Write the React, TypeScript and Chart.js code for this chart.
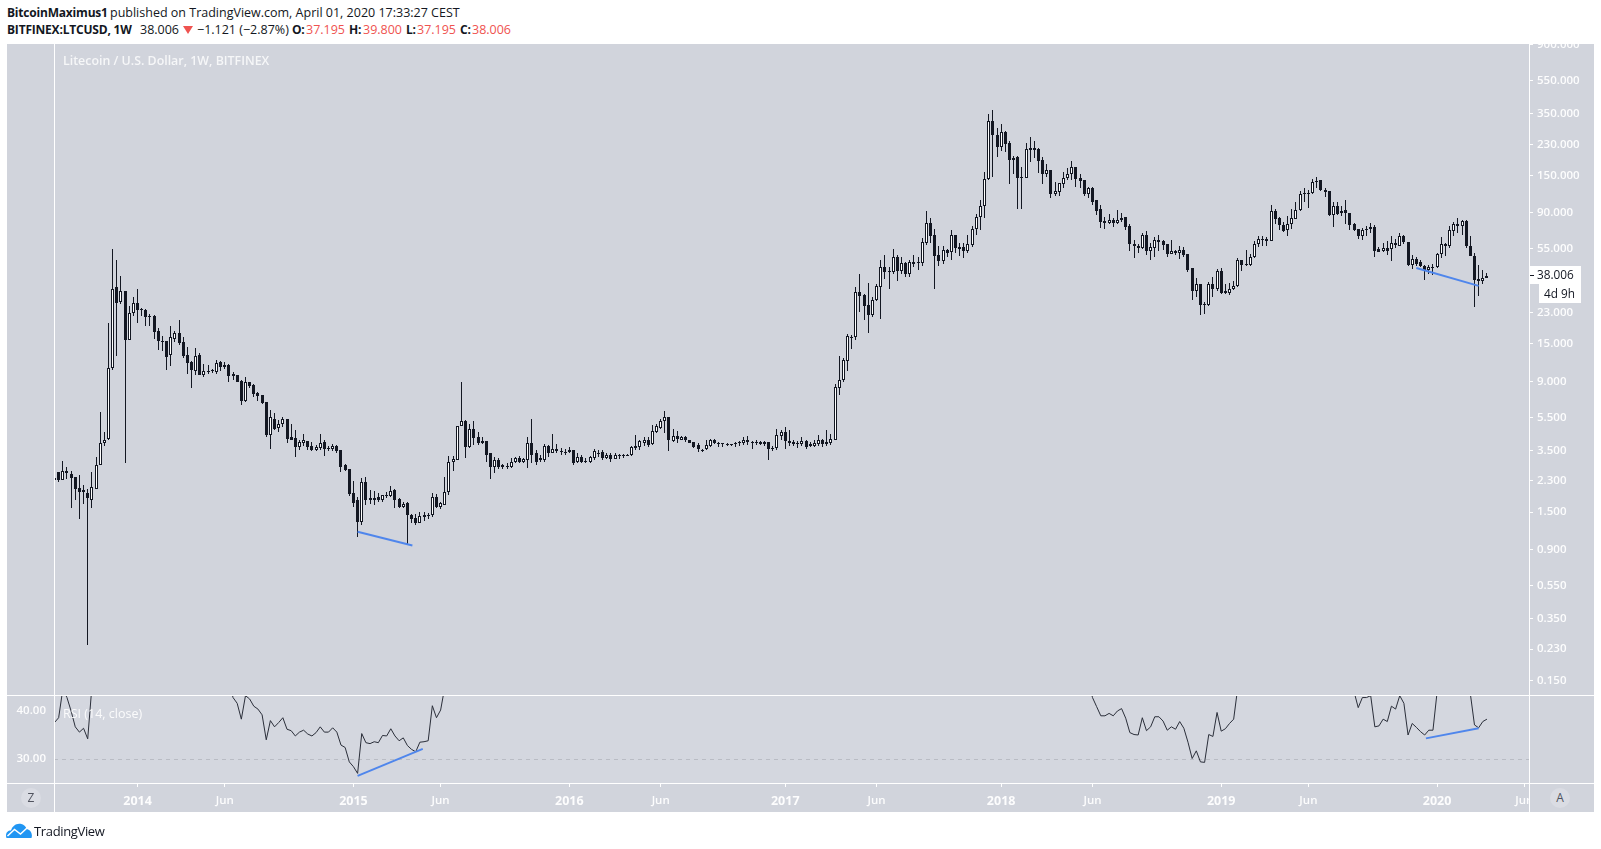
import { useEffect, useRef } from "react";
import { Chart, registerables } from "chart.js";

Chart.register(...registerables);

const FONT = '"Open Sans", sans-serif';
const DARK = "#131722";
const RED = "#ef5350";
const BLUE = "#4f86ec";
const AXIS_TEXT = "rgba(255,255,255,0.95)";

// weekly bars, first one is the week of 2013-08-19
const opens = [
  2.4, 2.59, 2.33, 2.62, 2.52, 2.42, 2.1, 2.02, 1.96, 1.76,
  2.05, 2.85, 3.85, 4.1, 10.8, 32.6, 26.7, 30.9, 15.9, 22.8,
  26.1, 24.2, 23.9, 22, 22, 17.8, 15.6, 15.6, 12.9, 16.1,
  17.3, 15.3, 12.9, 11.7, 10.4, 12.9, 9.8, 10.4, 10.5, 10.2,
  11.7, 11.2, 11.3, 9.9, 9.8, 9, 6.9, 8.9, 8.5, 7.7,
  7.5, 6.8, 4.3, 5.4, 4.75, 5, 5.4, 4.2, 4.15, 3.65,
  3.85, 3.95, 3.7, 3.5, 3.6, 3.9, 3.62, 3.58, 3.72, 3.5,
  2.85, 2.72, 1.95, 1.78, 1.32, 2.26, 1.82, 1.82, 1.84, 1.77,
  1.9, 1.86, 2.02, 1.79, 1.62, 1.7, 1.45, 1.38, 1.3, 1.44,
  1.42, 1.44, 1.84, 1.6, 1.66, 1.97, 2.97, 3.08, 4.9, 5.25,
  3.65, 4.65, 4.2, 3.95, 3.95, 3.35, 2.8, 3.05, 2.85, 2.82,
  2.8, 3.0, 3.15, 2.98, 3.05, 3.85, 3.35, 3.15, 3.05, 3.72,
  3.35, 3.55, 3.45, 3.43, 3.5, 3.5, 2.97, 3.17, 3.03, 2.97,
  3.15, 3.38, 3.4, 3.15, 3.3, 3.12, 3.3, 3.27, 3.3, 3.26,
  3.7, 3.65, 3.85, 4.05, 3.8, 4.5, 4.75, 5.2, 5.55, 3.97,
  4.25, 4.05, 4.2, 4.05, 3.9, 3.75, 3.52, 3.55, 3.72, 4.05,
  3.85, 3.85, 3.83, 3.82, 3.88, 3.9, 3.87, 4.05, 3.93, 3.9,
  3.92, 3.92, 3.92, 3.6, 3.6, 4.25, 4.5, 3.95, 3.92, 3.87,
  3.8, 3.95, 3.8, 3.72, 3.8, 4.05, 3.9, 3.88, 4.05, 8.2,
  9.1, 11.9, 16.6, 16.4, 30.4, 29.2, 25.4, 22.3, 27.2, 32.8,
  43, 40.5, 40, 49, 40.7, 45.5, 39.3, 46, 46, 45.5,
  60, 78, 66.7, 50.5, 46.7, 54.6, 52.5, 66.7, 56.5, 56.5,
  53.8, 57.8, 72, 85, 99, 143, 315, 260, 223, 271,
  235, 185, 194, 148, 146, 218, 220, 215, 185, 153,
  163, 117, 120, 133, 145, 153, 170, 145, 141, 117,
  126, 107, 94.5, 81, 79, 82, 78, 81.5, 85, 75.5,
  59, 57.5, 56, 66.7, 53.8, 56, 62, 61, 59, 51.5,
  53.8, 51.8, 54.6, 51.5, 42.5, 31, 34, 25.8, 25.5, 34,
  32, 40.5, 30.8, 30.3, 32, 33, 47, 45, 44, 49,
  58.5, 63, 63, 61.5, 92, 84, 76, 71, 77.5, 83,
  94, 119, 117, 118, 140, 141, 124, 122, 87.5, 99.5,
  93, 93.5, 90, 77.5, 72, 66, 71.5, 72, 74, 55,
  53.5, 56, 55, 60, 57.5, 66, 60.5, 44, 48, 46,
  43.5, 41.3, 43, 43, 51, 58.7, 57, 70.5, 77.5, 75.5,
  80.5, 57, 50, 36.5, 35.3, 37.195,
];

const highs = [
  2.42, 2.59, 3.01, 2.77, 2.63, 2.42, 2.49, 2.17, 2.05, 2.59,
  3.2, 5.87, 4.5, 20, 55, 47, 38, 30.9, 25.2, 28.6,
  31.7, 24.5, 24.1, 22.5, 22.4, 18.6, 16.7, 15.6, 19.2, 17.9,
  20.9, 16.5, 14.4, 11.9, 14.2, 13.2, 11.4, 11.3, 10.6, 12,
  11.9, 11.7, 11.4, 10.2, 9.8, 9.1, 9.6, 8.9, 8.7, 7.8,
  7.5, 6.8, 6.1, 5.8, 5.3, 5.5, 5.4, 5, 4.6, 4.05,
  4.4, 3.95, 3.9, 3.75, 4.4, 4, 3.7, 3.8, 3.75, 3.5,
  2.9, 2.72, 2.3, 1.84, 2.4, 2.42, 2.02, 2, 1.95, 1.9,
  1.98, 2.16, 2.05, 1.82, 1.72, 1.72, 1.47, 1.47, 1.5, 1.5,
  1.48, 1.96, 1.92, 1.73, 2.42, 3.25, 3.25, 4.9, 8.9, 5.3,
  5, 5.2, 4.5, 4.2, 3.95, 3.35, 3.2, 3.15, 2.9, 2.95,
  3.15, 3.17, 3.25, 3.15, 4.2, 5.4, 3.5, 3.27, 3.8, 3.77,
  4.4, 3.8, 3.6, 3.55, 3.65, 3.5, 3.35, 3.3, 3.15, 3.25,
  3.55, 3.5, 3.5, 3.35, 3.35, 3.35, 3.32, 3.32, 3.33, 3.72,
  4.3, 4.05, 4.2, 4.2, 4.95, 5, 5.35, 5.95, 5.55, 4.7,
  4.55, 4.25, 4.25, 4.05, 3.9, 3.85, 3.55, 4.05, 4.1, 4.1,
  3.9, 3.87, 3.87, 3.83, 3.92, 3.95, 4.2, 4.25, 3.97, 4,
  3.95, 3.95, 3.92, 3.7, 4.65, 4.6, 4.8, 4.6, 4.05, 3.95,
  4.2, 4.03, 3.9, 4, 4.3, 4.1, 4.6, 4.35, 8.7, 12.8,
  12.3, 17.1, 17, 32.7, 39, 29.8, 34.5, 28.5, 34, 47.5,
  50.6, 43, 55.3, 50.6, 49.3, 46, 47.5, 50.6, 49.3, 64,
  93, 83.7, 72, 57, 57, 55.3, 71.5, 66.7, 59.4, 59.4,
  66.4, 75, 89, 107, 157, 350, 370, 286, 305, 277,
  241, 196, 196, 170, 235, 254, 240, 218, 193, 177,
  163, 137, 136, 157, 167, 183, 170, 153, 141, 129,
  129, 108, 101, 85, 89, 84, 94, 90.5, 85, 77.5,
  62.5, 58.5, 68.5, 70.5, 59.4, 64.5, 67, 62, 59, 62.5,
  54.6, 57.5, 56.5, 51.5, 42.5, 37, 34, 26.5, 35, 37.5,
  42, 42.2, 34, 34.5, 35.3, 48.4, 47.6, 54.6, 51, 61.4,
  65.6, 66, 65, 100, 94.5, 85, 80, 86, 95.3, 104.5,
  121, 127, 124, 144, 146.5, 141, 127, 122, 105, 104,
  99.6, 107.5, 90, 78.5, 72.5, 73, 75, 79, 76, 56.5,
  59.7, 61, 66, 63, 68.5, 66.7, 60.5, 50.5, 49, 47,
  44, 44, 45, 52, 65, 60, 75, 80, 84, 81.5,
  82, 66, 52, 44, 41.3, 39.8,
];

const lows = [
  2.25, 2.27, 2.33, 2.36, 1.58, 1.76, 1.37, 1.68, 0.245, 1.58,
  2.05, 2.85, 3.7, 4.0, 10.5, 12.7, 25.9, 2.95, 15.9, 22,
  20, 22, 19.1, 19.1, 16.1, 13.8, 13.6, 10.5, 11.1, 15.4,
  14.8, 12.3, 10, 8.2, 9.8, 9.8, 9.5, 9.9, 10.1, 10,
  10.4, 10.7, 8.9, 9.1, 8.9, 6.5, 6.8, 8.2, 7.3, 6.9,
  6.6, 4.2, 3.55, 4.63, 4.5, 4.8, 3.85, 4, 3.2, 3.5,
  3.7, 3.5, 3.45, 3.45, 3.5, 3.25, 3.45, 3.45, 3.35, 2.6,
  2.62, 1.86, 1.6, 1.07, 1.25, 1.65, 1.67, 1.65, 1.73, 1.73,
  1.83, 1.85, 1.58, 1.58, 1.58, 0.97, 1.3, 1.25, 1.29, 1.33,
  1.36, 1.41, 1.58, 1.56, 1.66, 1.9, 2.62, 3.05, 4.85, 3.15,
  3.6, 3.75, 3.75, 3.8, 3, 2.35, 2.55, 2.7, 2.72, 2.72,
  2.76, 2.95, 2.93, 2.93, 2.73, 2.95, 2.85, 2.98, 3, 3.2,
  3.35, 3.35, 3.3, 3.3, 3.35, 2.85, 2.95, 2.95, 2.93, 2.93,
  3.08, 3.2, 3.05, 3.1, 2.98, 3.1, 3.1, 3.15, 3.24, 3.22,
  3.5, 3.5, 3.72, 3.68, 3.75, 4.45, 4.65, 4.45, 3.45, 3.9,
  3.87, 4, 3.9, 3.87, 3.6, 3.43, 3.43, 3.53, 3.68, 3.8,
  3.65, 3.65, 3.72, 3.7, 3.68, 3.7, 3.78, 3.78, 3.55, 3.75,
  3.78, 3.72, 3.05, 3.45, 3.53, 4, 3.55, 3.7, 3.72, 3.6,
  3.7, 3.55, 3.65, 3.67, 3.7, 3.65, 3.7, 3.78, 4, 7.5,
  8.9, 10.3, 13.9, 15.9, 23.3, 20.8, 17.4, 21.7, 27, 21,
  36.6, 32, 38.8, 35.6, 38.8, 37.5, 37.5, 43, 41, 43.5,
  57.8, 60, 32, 43.5, 44.5, 49.4, 47, 52.3, 50, 48.5,
  52.3, 56.5, 66.7, 71.5, 84, 141, 148, 193, 211, 208,
  134, 154, 95, 95, 146, 180, 190, 156, 134, 148,
  111, 113, 113, 126, 141, 141, 129, 127, 113, 111,
  101, 88, 73, 72.5, 77, 74, 77, 80, 71.5, 53.8,
  48.5, 52.3, 55, 50.5, 47, 49.5, 53.8, 54.6, 49.5, 51.5,
  50.5, 47.7, 49.5, 40, 27.5, 28.5, 22.3, 22.6, 25.2, 28.5,
  31, 29.5, 29.5, 29.2, 31.5, 32.6, 40.5, 43.5, 43.5, 48.4,
  56.5, 57.5, 57, 61, 77.5, 71, 69, 66, 72, 83,
  93, 104, 97, 117, 127, 121, 111.5, 86, 74, 87,
  86, 77.5, 71.5, 70, 63, 62, 66, 68.5, 49.5, 53,
  53, 50.5, 46.5, 55.5, 57, 58.7, 43.5, 42, 43.5, 43,
  36, 39, 38.7, 42.5, 48.5, 50, 55.5, 65.5, 68, 67,
  56, 50, 24.8, 28.8, 34, 37.195,
];

const closes = [
  2.32, 2.34, 2.62, 2.57, 2.4, 2.06, 1.97, 1.97, 1.82, 2.13,
  2.85, 3.88, 4.0, 10.8, 31.7, 26.1, 30.9, 15.9, 22.8, 26.1,
  24, 23.8, 21.7, 21.8, 17.7, 15.6, 15.4, 12.6, 16.4, 17.4,
  15.2, 12.7, 11.6, 10.5, 12.7, 9.8, 10.4, 10.3, 10.3, 11.6,
  10.9, 11, 9.7, 9.7, 8.9, 6.9, 8.9, 8.4, 7.6, 7.4,
  6.7, 4.3, 5.5, 4.7, 5, 5.35, 4.1, 4.05, 3.65, 3.9,
  4, 3.65, 3.5, 3.65, 3.85, 3.55, 3.58, 3.72, 3.45, 2.78,
  2.67, 1.92, 1.7, 1.32, 2.26, 1.76, 1.76, 1.77, 1.77, 1.9,
  1.86, 2.0, 1.77, 1.62, 1.68, 1.44, 1.37, 1.3, 1.42, 1.41,
  1.45, 1.84, 1.62, 1.69, 1.98, 2.97, 3.1, 4.9, 5.25, 3.65,
  4.65, 4.15, 3.85, 3.85, 3.3, 2.8, 3.05, 2.77, 2.78, 2.78,
  3.0, 3.15, 2.98, 3.1, 3.85, 3.3, 3, 3.05, 3.72, 3.35,
  3.55, 3.45, 3.4, 3.4, 3.4, 2.95, 3.2, 2.97, 2.97, 3.17,
  3.45, 3.35, 3.15, 3.3, 3.12, 3.3, 3.27, 3.25, 3.25, 3.65,
  3.62, 3.95, 4.05, 3.75, 4.55, 4.85, 5.2, 5.55, 4.0, 4.25,
  4.1, 4.2, 4.03, 3.87, 3.65, 3.55, 3.5, 3.75, 4.0, 3.85,
  3.8, 3.8, 3.8, 3.77, 3.8, 3.87, 4.05, 3.9, 3.85, 3.85,
  3.8, 3.82, 3.55, 3.62, 4.3, 4.5, 3.95, 3.87, 3.82, 3.8,
  3.95, 3.65, 3.7, 3.88, 4.05, 3.8, 3.82, 4.08, 8.3, 9.2,
  12, 16.7, 16.3, 30.4, 28.9, 25.3, 22.3, 27.3, 33.2, 43,
  40, 40.2, 49, 40.7, 45.5, 39, 46, 45, 45.3, 60.4,
  78, 66, 50, 46.7, 54.6, 52.3, 66.7, 56, 55.3, 53.8,
  58.7, 72.4, 85.5, 99, 144, 315, 261, 223, 271, 232,
  185, 192, 146, 146, 215, 213, 213, 183, 153, 162,
  117, 121, 135, 146, 154, 170, 143, 139, 117, 126,
  105, 93, 80, 79, 82, 78, 82, 84.5, 74.5, 58.5,
  57, 56, 66.7, 53.8, 56.5, 62, 60.5, 58, 51.5, 53.5,
  52, 54.5, 50.5, 41, 31, 34, 25.5, 25.5, 34, 32,
  40.5, 30, 30, 32, 33, 47, 44, 44.3, 49, 58.5,
  63, 61.8, 61.5, 92, 83, 76, 70.5, 77.5, 84, 94,
  117, 117, 119, 138, 137, 123, 120, 87, 99, 88.5,
  90, 90, 76.5, 71.5, 66, 71.5, 72, 74, 53.5, 53,
  56, 53.5, 60, 58, 66, 60.5, 44, 48, 45, 43.5,
  41.5, 43, 42.5, 51, 58.5, 57, 71, 77.5, 75.5, 80.5,
  57.5, 50, 36, 35.3, 37.2, 38.006,
];

// RSI is only readable while it stays inside its pane, so only those runs are kept
const rsiRuns = [
  { start: 0, values: [37.6, 38.6, 44.5, 42.8, 40, 36.7, 35.6, 36.4, 34.2, 45] },
  {
    start: 42,
    values: [
      46, 42.8, 41.6, 38.3, 43.2, 42.5, 41, 40.4, 39.2, 34, 38, 36.7, 37.6, 38.6, 36.2, 35.9, 34.8, 35.6, 36, 35.2,
      34.8, 35.5, 36.7, 35.6, 35.6, 36.5, 35.6, 32.9, 32.4, 29.4, 28.4, 27, 35.3, 33.4, 33.2, 33.6, 33.4, 34.9, 34.8,
      36.3, 34.8, 33.8, 34.4, 32.8, 32, 31.5, 33.5, 33.6, 33.8, 41.1, 38.6, 40.2, 45,
    ],
  },
  {
    start: 249,
    values: [
      46, 42.8, 40.9, 39, 39, 39.5, 39, 40, 40.5, 38.5, 35.5, 35.1, 35, 38.6, 35.9, 36.7, 38.8, 38.8, 37.9, 36, 36.7,
      36.2, 37.8, 36.4, 33.5, 30.1, 31.7, 29.4, 29.3, 35.1, 34.7, 39.7, 35.8, 36.3, 37.4, 38.3, 45,
    ],
  },
  {
    start: 313,
    values: [44, 40.7, 42.8, 42.8, 43.2, 36.7, 36.9, 38.3, 37.8, 41, 40.4, 43.2, 41.6, 35, 37.4, 36.6, 35.7, 35, 36, 36, 44],
  },
  { start: 341, values: [43.6, 37.1, 36.5, 37.8, 38.3] },
];

const priceTicks = [900, 550, 350, 230, 150, 90, 55, 23, 15, 9, 5.5, 3.5, 2.3, 1.5, 0.9, 0.55, 0.35, 0.23, 0.15];
const rsiTicks = [30, 40];
const timeLabels = ["2014", "Jun", "2015", "Jun", "2016", "Jun", "2017", "Jun", "2018", "Jun", "2019", "Jun", "2020", "Jun"];
const timeTickBars = [20, 41, 72, 93, 124, 146, 176, 198, 228, 250, 281, 302, 333, 354];

// hand drawn trend lines, [bar, value]
const priceTrendLines = [
  [[73, 1.146], [86.2, 0.95]],
  [[328, 42.4], [343, 33.2]],
];
const rsiTrendLines = [
  [[73, 26.5], [88.7, 32.1]],
  [[330.3, 34.3], [343, 36.4]],
];

// visible ranges of the panes
const BAR_MIN = -0.12;
const BAR_MAX = 355.13;
const PRICE_MIN = 0.1212;
const PRICE_MAX = 909;
const RSI_MIN = 25;
const RSI_MAX = 43.125;

// puts the bars on whole pixels, the way the candles look in the original
const snapBars = {
  id: "snapBars",
  beforeDatasetsDraw(chart: any) {
    chart.getSortedVisibleDatasetMetas().forEach((meta: any) => {
      if (meta.type !== "bar") return;
      meta.data.forEach((el: any) => {
        el.x = Math.round(el.x - 0.5) + 0.5;
        const top = Math.round(el.y);
        const base = Math.round(el.base);
        el.y = top;
        el.base = base === top ? top + 1 : base;
      });
    });
  },
};

const trendDataset = (line: number[][]) => ({
  type: "line",
  data: line.map(([x, y]) => ({ x, y })),
  borderColor: BLUE,
  borderWidth: 2,
  pointRadius: 0,
  order: -1,
});

const noPadding = (width?: number, height?: number) => (scale: any) => {
  if (width !== undefined) scale.width = width;
  if (height !== undefined) scale.height = height;
  scale.paddingTop = 0;
  scale.paddingBottom = 0;
  scale.paddingLeft = 0;
  scale.paddingRight = 0;
};

export default function App() {
  const priceRef = useRef<HTMLCanvasElement | null>(null);
  const rsiRef = useRef<HTMLCanvasElement | null>(null);

  useEffect(() => {
    document.body.style.margin = "0";
    document.body.style.overflow = "hidden";

    const common = {
      responsive: false,
      animation: false as const,
      devicePixelRatio: 1,
      events: [],
      plugins: { legend: { display: false }, tooltip: { enabled: false } },
    };

    const price = new Chart(priceRef.current!, {
      type: "bar",
      plugins: [snapBars],
      data: {
        datasets: [
          ...priceTrendLines.map(trendDataset),
          {
            data: opens.map((o, i) => ({ x: i, y: [o, closes[i]] })),
            backgroundColor: opens.map((o, i) => (closes[i] >= o ? "#ffffff" : DARK)),
            borderColor: DARK,
            borderWidth: 1,
            borderSkipped: false,
            inflateAmount: 0,
            barThickness: 3,
            grouped: false,
            order: 1,
          },
          {
            data: lows.map((l, i) => ({ x: i, y: [l, highs[i]] })),
            backgroundColor: DARK,
            borderWidth: 0,
            inflateAmount: 0,
            barThickness: 1,
            grouped: false,
            order: 2,
          },
        ] as any,
      },
      options: {
        ...common,
        layout: { padding: { left: 47, top: 0, right: 0, bottom: 0 } },
        scales: {
          x: { type: "linear", display: false, offset: false, min: BAR_MIN, max: BAR_MAX },
          y: {
            type: "logarithmic",
            position: "right",
            min: PRICE_MIN,
            max: PRICE_MAX,
            bounds: "data",
            afterBuildTicks: (scale: any) => {
              scale.ticks = priceTicks.map((value) => ({ value }));
            },
            afterFit: noPadding(65),
            border: { display: false },
            grid: { drawOnChartArea: false, drawTicks: true, tickLength: 4, color: "#ffffff" },
            ticks: {
              autoSkip: false,
              padding: 4,
              color: AXIS_TEXT,
              font: { family: FONT, size: 11.5, weight: "600" },
              callback: (v: any) => Number(v).toFixed(3),
            },
          },
        },
      } as any,
    });

    const rsiPoints = rsiRuns.flatMap((run) => [
      ...run.values.map((y, i) => ({ x: run.start + i, y })),
      { x: run.start + run.values.length, y: null },
    ]);

    const rsi = new Chart(rsiRef.current!, {
      type: "line",
      data: {
        datasets: [
          ...rsiTrendLines.map(trendDataset),
          { data: rsiPoints, borderColor: "#2a2e39", borderWidth: 1, pointRadius: 0, spanGaps: false, order: 1 },
        ] as any,
      },
      options: {
        ...common,
        layout: { padding: { left: 0, top: 0, right: 65, bottom: 0 } },
        scales: {
          x: {
            type: "linear",
            min: BAR_MIN,
            max: BAR_MAX,
            bounds: "data",
            afterBuildTicks: (scale: any) => {
              scale.ticks = timeTickBars.map((value) => ({ value }));
            },
            afterFit: noPadding(undefined, 29),
            border: { display: false },
            grid: { drawOnChartArea: false, drawTicks: true, tickLength: 4, color: "#ffffff" },
            ticks: {
              autoSkip: false,
              maxRotation: 0,
              minRotation: 0,
              padding: 7,
              color: AXIS_TEXT,
              font: (ctx: any) =>
                /^\d/.test(timeLabels[ctx.index] ?? "")
                  ? { family: FONT, size: 12.5, weight: "bold" }
                  : { family: FONT, size: 11.5, weight: "600" },
              callback: (_v: any, i: number) => timeLabels[i],
            },
          },
          y: {
            position: "left",
            min: RSI_MIN,
            max: RSI_MAX,
            bounds: "data",
            afterBuildTicks: (scale: any) => {
              scale.ticks = rsiTicks.map((value) => ({ value }));
            },
            afterFit: noPadding(47),
            border: { display: false, dash: [4, 4] },
            grid: {
              drawTicks: false,
              color: (ctx: any) => (ctx.tick?.value === 30 ? "#b9bcc4" : "transparent"),
            },
            ticks: {
              autoSkip: false,
              padding: 8,
              color: AXIS_TEXT,
              font: { family: FONT, size: 11.5, weight: "600" },
              callback: (v: any) => Number(v).toFixed(2),
            },
          },
        },
      } as any,
    });

    return () => {
      price.destroy();
      rsi.destroy();
    };
  }, []);

  const text = (left: number, top: number, value: string, extra: any = {}) => (
    <span style={{ position: "absolute", left, top, whiteSpace: "nowrap", ...extra }}>{value}</span>
  );
  const bold = { fontWeight: 700, fontSize: 12, letterSpacing: "-0.2px" };
  const red = { color: RED };
  const line = (left: number, top: number, width: number, height: number) => (
    <div style={{ position: "absolute", left, top, width, height, background: "#ffffff" }} />
  );
  const roundButton = (left: number, label: string) => (
    <div
      style={{
        position: "absolute",
        left,
        top: 788,
        width: 20,
        height: 20,
        borderRadius: 10,
        background: "#dadce3",
        color: "#50535e",
        fontSize: 12,
        lineHeight: "20px",
        textAlign: "center",
      }}
    >
      {label}
    </div>
  );

  return (
    <div
      style={{
        position: "absolute",
        left: 0,
        top: 0,
        width: 1601,
        height: 849,
        overflow: "hidden",
        background: "#ffffff",
        color: DARK,
        fontFamily: FONT,
        fontSize: 12.5,
        lineHeight: "17px",
      }}
    >
      {text(7, 4, "BitcoinMaximus1", bold)}
      {text(110, 4, "published on TradingView.com, April 01, 2020 17:33:27 CEST")}
      {text(7, 21, "BITFINEX:LTCUSD, 1W", bold)}
      {text(140, 21, "38.006")}
      <svg width={10} height={8} style={{ position: "absolute", left: 183, top: 26 }}>
        <polygon points="0,0 10,0 5,8" fill={RED} />
      </svg>
      {text(197, 21, "−1.121 (−2.87%)")}
      {text(292, 21, "O:", bold)}
      {text(306, 21, "37.195", red)}
      {text(349, 21, "H:", bold)}
      {text(363, 21, "39.800", red)}
      {text(406, 21, "L:", bold)}
      {text(417, 21, "37.195", red)}
      {text(460, 21, "C:", bold)}
      {text(472, 21, "38.006", red)}

      <div style={{ position: "absolute", left: 7, top: 44, width: 1587, height: 768, background: "#d1d4dc" }} />
      <div style={{ position: "absolute", left: 54, top: 696, width: 1475, height: 87, background: "#d4d7df" }} />

      <canvas ref={priceRef} width={1587} height={652} style={{ position: "absolute", left: 7, top: 44 }} />
      <canvas ref={rsiRef} width={1587} height={116} style={{ position: "absolute", left: 7, top: 696 }} />

      {/* pane borders and what sits on top of the axes */}
      <div style={{ position: "absolute", left: 1529, top: 784, width: 65, height: 28, background: "#d1d4dc" }} />
      {line(54, 44, 1, 768)}
      {line(1529, 44, 1, 768)}
      {line(7, 695, 1587, 1)}
      {line(7, 783, 1587, 1)}

      {text(63, 52, "Litecoin / U.S. Dollar, 1W, BITFINEX", { color: "rgba(255,255,255,0.8)", fontWeight: 600, fontSize: 12.4 })}
      {text(63, 705, "RSI (14, close)", { color: "rgba(255,255,255,0.9)", fontSize: 12.5 })}

      {line(1529, 266, 52, 18)}
      {line(1539, 284, 42, 19)}
      <div style={{ position: "absolute", left: 1530, top: 275, width: 4, height: 1, background: DARK }} />
      {text(1537, 266, "38.006", { fontSize: 11.8 })}
      {text(1544, 285, "4d 9h", { fontSize: 11.8 })}

      {roundButton(21, "Z")}
      {roundButton(1550, "A")}

      <svg viewBox="0 0 26 15" width={26} height={15} style={{ position: "absolute", left: 6, top: 823 }}>
        <path d="M0.5 15C-1 11 1 7.5 5 7.5C6 3 10.5 0 14.5 0.8C18 1.5 20 3.5 20.5 6C24 6.5 27 10 25.5 15Z" fill="#2196f3" />
        <path d="M1.5 13L8.5 6.5L14.5 11L21 5" fill="none" stroke="#ffffff" strokeWidth={1.5} />
      </svg>
      {text(34, 822, "TradingView", { fontSize: 13, letterSpacing: "-0.35px", lineHeight: "18px" })}
    </div>
  );
}
